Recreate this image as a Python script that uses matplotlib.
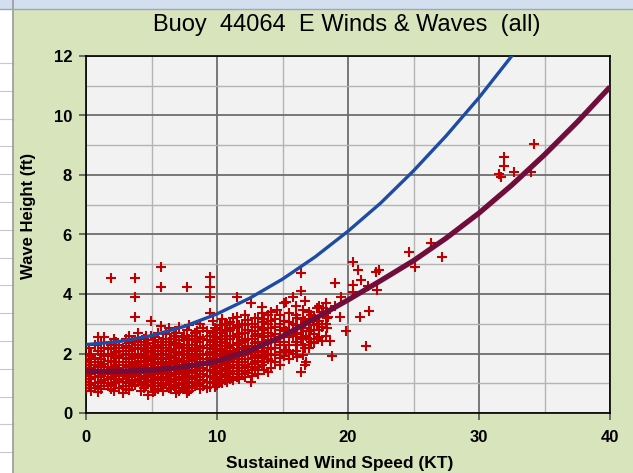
import numpy as np
import matplotlib
matplotlib.use('Agg')
import matplotlib.pyplot as plt
from matplotlib.patches import Rectangle
from matplotlib.lines import Line2D
from matplotlib.ticker import MultipleLocator

# ── observed buoy data: wind speed columns (kt) and wave heights (ft) ──────
wind_cols = [0.0, 0.4, 0.9, 1.4, 1.9, 2.3, 2.8, 3.3, 3.74, 4.0, 4.4, 4.76,
             4.96, 5.3, 5.73, 6.1, 6.5, 6.9, 7.3, 7.7, 8.1, 8.5, 8.9, 9.5,
             9.85, 10.2, 10.6, 11.0, 11.5, 11.9, 12.4, 12.6, 12.9, 13.4,
             13.9, 14.4, 14.6, 15.1, 15.3, 15.8, 16.1, 16.4, 16.7, 16.8,
             17.2, 17.6, 18.0, 18.1, 18.4, 18.5, 18.6, 18.8, 19.0, 19.4,
             19.5, 19.85, 20.4, 20.8, 20.9, 21.0, 21.4, 21.5, 21.6, 22.1,
             22.2, 22.4, 24.66, 25.1, 26.3, 27.2, 31.5, 31.7, 31.9, 32.7,
             34.0, 34.2]
wave_cols = [
    [0.85, 1.05, 1.25, 1.4, 1.6, 1.75],
    [0.95, 1.15, 1.3, 1.5, 1.8, 2.0, 0.75],
    [0.9, 1.2, 1.4, 1.55, 1.7, 2.1, 2.54, 0.72],
    [1.0, 1.1, 1.3, 1.45, 1.65, 1.9, 2.2, 2.54],
    [0.95, 1.2, 1.35, 1.5, 1.75, 2.0, 2.3, 4.55, 0.8],
    [1.05, 1.25, 1.4, 1.6, 1.85, 2.05, 2.4],
    [0.66, 0.9, 1.15, 1.3, 1.45, 1.7, 1.95, 2.2],
    [1.0, 1.2, 1.35, 1.55, 1.8, 2.1, 2.35, 2.6, 0.78],
    [0.95, 1.1, 1.3, 1.5, 1.65, 1.9, 2.15, 2.45, 3.24, 3.91, 4.55],
    [1.05, 1.25, 1.4, 1.6, 1.85, 2.0, 2.3, 2.68],
    [0.85, 1.0, 1.2, 1.45, 1.7, 1.9, 2.2, 2.5],
    [0.61, 1.1, 1.3, 1.5, 1.75, 2.05, 2.35],
    [0.95, 1.2, 1.4, 1.6, 1.8, 2.1, 2.6, 3.09],
    [1.0, 1.15, 1.35, 1.55, 1.7, 1.95, 2.25, 2.55, 0.75],
    [0.9, 1.1, 1.3, 1.5, 1.65, 1.85, 2.1, 2.4, 2.92, 4.22, 4.90],
    [1.0, 1.2, 1.4, 1.6, 1.8, 2.0, 2.3, 2.65],
    [0.8, 1.05, 1.25, 1.45, 1.7, 1.9, 2.15, 2.5],
    [0.66, 0.95, 1.15, 1.35, 1.55, 1.75, 2.05, 2.35, 2.7],
    [0.85, 1.1, 1.3, 1.5, 1.7, 1.95, 2.2, 2.55],
    [0.66, 0.9, 1.05, 1.25, 1.45, 1.65, 1.85, 2.1, 2.45, 2.8, 4.22],
    [0.85, 1.15, 1.35, 1.55, 1.8, 2.0, 2.3, 2.59],
    [0.95, 1.2, 1.4, 1.6, 1.85, 2.1, 2.4, 2.75],
    [0.9, 1.1, 1.3, 1.5, 1.7, 1.95, 2.2, 2.5, 2.85],
    [0.88, 1.05, 1.25, 1.45, 1.65, 1.85, 2.05, 2.3, 2.6, 3.35, 3.91, 4.22, 4.58],
    [0.88, 1.15, 1.35, 1.55, 1.8, 2.0, 2.25, 2.55, 2.85],
    [1.05, 1.3, 1.5, 1.7, 1.9, 2.15, 2.4, 2.7, 2.96],
    [1.1, 1.25, 1.45, 1.65, 1.9, 2.1, 2.35, 2.6, 2.95],
    [1.15, 1.35, 1.55, 1.75, 2.0, 2.2, 2.5, 2.8, 3.07],
    [1.2, 1.4, 1.6, 1.8, 2.05, 2.3, 2.55, 2.9, 3.24, 3.91],
    [1.3, 1.5, 1.7, 1.95, 2.15, 2.4, 2.7, 3.0],
    [1.35, 1.55, 1.8, 2.0, 2.25, 2.5, 2.8, 3.13],
    [1.05, 3.69],
    [1.5, 1.7, 1.9, 2.1, 2.35, 2.6, 2.9, 3.2],
    [1.6, 1.85, 2.05, 2.3, 2.55, 2.8, 3.05, 3.35, 3.57],
    [1.39, 1.8, 2.0, 2.2, 2.45, 2.7, 3.0, 3.3],
    [1.7, 1.95, 2.2, 2.4, 2.65, 2.9, 3.15],
    [3.46],
    [1.9, 2.12, 2.4, 2.6, 2.85, 3.1, 3.69],
    [2.12, 2.75, 3.74],
    [2.0, 2.59, 3.0, 3.91],
    [1.89, 2.3, 2.7, 3.2],
    [1.39, 2.5, 2.9, 4.10, 4.72],
    [1.61, 2.2, 3.1, 3.78],
    [1.73, 2.6],
    [2.4, 2.8, 3.3],
    [2.5, 3.0, 3.52],
    [2.43, 2.9, 3.4],
    [3.52],
    [2.85, 3.2],
    [3.22],
    [2.43],
    [1.92],
    [3.6, 4.38],
    [3.22],
    [3.91],
    [2.77],
    [4.06, 4.30, 5.08],
    [4.81],
    [3.22],
    [4.47],
    [2.25],
    [4.27],
    [3.44],
    [4.75],
    [4.13],
    [4.81],
    [5.42],
    [4.92],
    [5.70],
    [5.26],
    [8.03],
    [7.94],
    [8.30, 8.59],
    [8.11],
    [8.11],
    [9.03],
]

# second batch of observations filling the dense 0-18 kt cloud
wind_cols_b = [0.2, 0.65, 1.15, 1.65, 2.1, 2.55, 3.05, 3.5, 4.2, 4.6, 5.1,
               5.5, 5.9, 6.3, 6.7, 7.1, 7.5, 7.9, 8.3, 8.7, 9.2, 9.7, 10.0,
               10.4, 10.8, 11.2, 11.7, 12.1, 12.7, 13.1, 13.6, 14.1, 14.8,
               15.5, 16.0, 16.6, 17.0, 17.4, 17.8, 18.3]
wave_cols_b = [
    [0.95, 1.15, 1.35, 1.5, 1.7, 1.9, 2.2],
    [0.85, 1.0, 1.2, 1.4, 1.6, 1.85, 2.3],
    [0.8, 1.05, 1.25, 1.35, 1.6, 1.8, 2.0, 2.35],
    [0.9, 1.15, 1.4, 1.55, 1.75, 1.95, 2.15],
    [0.75, 1.0, 1.15, 1.3, 1.55, 1.7, 1.9, 2.2, 2.5],
    [0.85, 1.1, 1.3, 1.5, 1.7, 1.9, 2.1, 2.3],
    [0.8, 1.05, 1.25, 1.4, 1.6, 1.85, 2.0, 2.25, 2.5],
    [0.9, 1.1, 1.3, 1.45, 1.7, 1.95, 2.2, 2.4],
    [0.75, 0.95, 1.15, 1.35, 1.55, 1.75, 2.0, 2.15, 2.4],
    [0.9, 1.05, 1.25, 1.4, 1.6, 1.85, 2.1, 2.3, 2.6],
    [0.7, 0.9, 1.1, 1.3, 1.45, 1.65, 1.9, 2.2, 2.45],
    [0.8, 1.0, 1.2, 1.4, 1.55, 1.8, 2.0, 2.3, 2.7],
    [0.75, 0.95, 1.15, 1.35, 1.55, 1.7, 1.95, 2.2, 2.5],
    [0.85, 1.1, 1.3, 1.5, 1.65, 1.85, 2.1, 2.4, 2.85],
    [0.9, 1.1, 1.3, 1.5, 1.65, 1.85, 2.05, 2.3, 2.6],
    [0.75, 1.0, 1.2, 1.4, 1.6, 1.8, 2.0, 2.25, 2.45, 2.9],
    [0.8, 0.95, 1.15, 1.35, 1.55, 1.75, 2.0, 2.3, 2.6],
    [0.75, 1.0, 1.2, 1.4, 1.6, 1.75, 1.95, 2.2, 2.5, 2.95],
    [0.9, 1.05, 1.25, 1.45, 1.65, 1.9, 2.15, 2.45, 2.7],
    [0.8, 1.0, 1.2, 1.4, 1.6, 1.8, 2.0, 2.25, 2.55, 3.0],
    [0.85, 1.05, 1.25, 1.45, 1.6, 1.8, 2.0, 2.2, 2.45, 2.75],
    [1.0, 1.2, 1.4, 1.6, 1.75, 1.95, 2.15, 2.4, 2.7, 3.1],
    [0.95, 1.1, 1.3, 1.5, 1.7, 1.9, 2.1, 2.3, 2.55, 2.8],
    [1.0, 1.2, 1.4, 1.6, 1.8, 2.0, 2.25, 2.5, 2.8, 3.15],
    [1.05, 1.2, 1.4, 1.6, 1.8, 2.05, 2.25, 2.5, 2.75, 3.0],
    [1.1, 1.3, 1.5, 1.7, 1.9, 2.1, 2.3, 2.6, 2.85, 3.2],
    [1.15, 1.3, 1.5, 1.7, 1.9, 2.15, 2.35, 2.65, 2.95],
    [1.2, 1.4, 1.6, 1.8, 2.0, 2.2, 2.45, 2.7, 2.95, 3.3],
    [1.25, 1.45, 1.65, 1.85, 2.05, 2.25, 2.5, 2.75, 3.0],
    [1.3, 1.55, 1.75, 1.95, 2.2, 2.4, 2.65, 2.9, 3.2],
    [1.45, 1.7, 1.9, 2.1, 2.35, 2.6, 2.85, 3.15],
    [1.5, 1.75, 1.95, 2.15, 2.4, 2.6, 2.85, 3.1, 3.4],
    [1.6, 1.85, 2.05, 2.3, 2.55, 2.8, 3.0, 3.3],
    [1.8, 2.05, 2.3, 2.55, 2.8, 3.05, 3.35],
    [2.1, 2.4, 2.65, 2.95, 3.3, 3.6],
    [1.95, 2.3, 2.55, 2.85, 3.15, 3.45],
    [2.2, 2.5, 2.75, 3.05, 3.4],
    [2.35, 2.65, 2.95, 3.25],
    [2.55, 2.8, 3.1, 3.6],
    [2.6, 3.0, 3.35, 3.7],
]

# ── trend curves ───────────────────────────────────────────────────────────
upper_x = [0, 2.5, 5, 7.5, 10, 12.5, 15, 17.5, 20, 22.5, 25, 27.5, 30, 32.5, 33.0]
upper_y = [2.30, 2.40, 2.60, 2.91, 3.33, 3.86, 4.50, 5.25, 6.11, 7.06, 8.14,
           9.32, 10.60, 12.0, 12.3]
fit_x = [0, 2.5, 5, 7.5, 10, 12.5, 15, 17.5, 20, 22.5, 25, 27.5, 30, 32.5,
         35, 37.5, 40]
fit_y = [1.40, 1.40, 1.44, 1.55, 1.74, 2.10, 2.58, 3.18, 3.80, 4.45, 5.12,
         5.88, 6.72, 7.66, 8.68, 9.78, 10.96]

all_cols = list(zip(wind_cols, wave_cols)) + list(zip(wind_cols_b, wave_cols_b))
wind = np.concatenate([[x] * len(ys) for x, ys in all_cols])
wave = np.concatenate([ys for _, ys in all_cols])

W, H = 633, 473
fig = plt.figure(figsize=(W / 100, H / 100), dpi=100)
fig.patch.set_facecolor('#d8e4bc')

# spreadsheet bits around the chart object
fig.add_artist(Rectangle((0, 0), 12.5 / W, 1, transform=fig.transFigure,
                         facecolor='white', edgecolor='none'))
for py in np.arange(63, H, 27.8):
    fig.add_artist(Line2D([0, 12.5 / W], [1 - py / H] * 2, color='#c8c8c8',
                          lw=0.8, transform=fig.transFigure))
fig.add_artist(Line2D([13 / W] * 2, [0, 1], color='#9a9a9a', lw=1.2,
                      transform=fig.transFigure))
fig.add_artist(Rectangle((0, 1 - 9 / H), 1, 9 / H, transform=fig.transFigure,
                         facecolor='#d3dfee', edgecolor='none'))
fig.add_artist(Line2D([0, 1], [1 - 9 / H] * 2, color='#9aa7b8', lw=1.0,
                      transform=fig.transFigure))

ax = fig.add_axes([86 / W, 1 - 413 / H, (610 - 86) / W, (413 - 56) / H])
ax.set_facecolor('#f2f2f2')

ax.scatter(wind, wave, marker='+', s=50, color='#c00000', linewidths=1.5,
           zorder=3)
ax.plot(upper_x, upper_y, color='#1c4ca3', lw=2.4, zorder=4,
        solid_capstyle='butt')
ax.plot(fit_x, fit_y, color='#700d3a', lw=3.8, zorder=4,
        solid_capstyle='butt')

ax.set_xlim(0, 40)
ax.set_ylim(0, 12)
ax.xaxis.set_major_locator(MultipleLocator(10))
ax.xaxis.set_minor_locator(MultipleLocator(5))
ax.yaxis.set_major_locator(MultipleLocator(2))
ax.yaxis.set_minor_locator(MultipleLocator(1))
ax.grid(which='major', color='#6e6e6e', lw=1.3, zorder=1)
ax.grid(which='minor', color='#b4b4b4', lw=1.0, zorder=1)
ax.set_axisbelow(True)
ax.tick_params(which='major', direction='out', length=5, width=1.2,
               color='#555555', labelsize=12)
ax.tick_params(axis='x', which='major', pad=7)
ax.tick_params(axis='y', which='major', pad=5)
ax.tick_params(which='minor', length=0)
for lab in ax.get_xticklabels() + ax.get_yticklabels():
    lab.set_fontweight('bold')
    lab.set_family(['Liberation Sans', 'DejaVu Sans'])
for side in ('left', 'bottom', 'top', 'right'):
    ax.spines[side].set_color('black')
    ax.spines[side].set_linewidth(1.2)

narrow = ['Liberation Sans Narrow', 'Liberation Sans', 'DejaVu Sans']
fig.text(347 / W, 1 - 25 / H, 'Buoy  44064  E Winds & Waves  (all)',
         ha='center', va='center', fontsize=17, family=narrow,
         color='black')
fig.text(340 / W, 1 - 463 / H, 'Sustained Wind Speed (KT)', ha='center',
         va='center', fontsize=12.5, fontweight='bold', family=narrow)
fig.text(28 / W, 1 - 216 / H, 'Wave Height (ft)', ha='center', va='center',
         rotation=90, fontsize=12, fontweight='bold',
         family=['Liberation Sans', 'DejaVu Sans'])

fig.savefig('out.png', dpi=100, facecolor=fig.get_facecolor())
